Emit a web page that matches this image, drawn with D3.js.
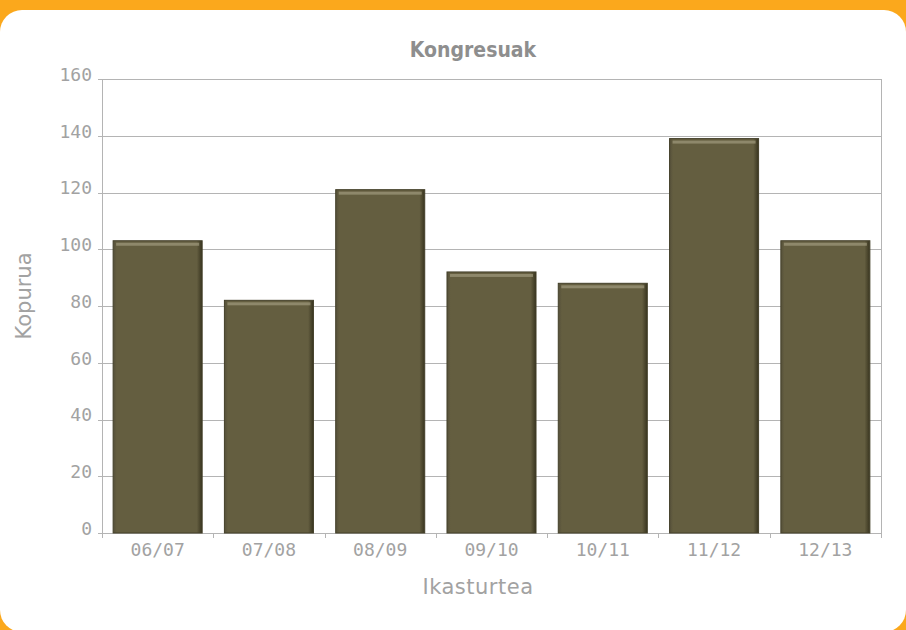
<!DOCTYPE html>
<html>
<head>
<meta charset="utf-8">
<script src="https://cdn.jsdelivr.net/npm/d3@7"></script>
<style>
  body { margin: 0; background: #fba81c; }
  text { font-family: "DejaVu Sans Mono", monospace; fill: #a2a2a2; }
  .title { font-family: "DejaVu Sans Condensed", "DejaVu Sans", sans-serif; }
  .axis-title { font-family: "DejaVu Sans", sans-serif; }
</style>
</head>
<body>
<div id="chart-area"></div>
<script>
// data
var seasons = ["06/07", "07/08", "08/09", "09/10", "10/11", "11/12", "12/13"];
var counts = [103, 82, 121, 92, 88, 139, 103];
var yTicks = [0, 20, 40, 60, 80, 100, 120, 140, 160];

var W = 906, H = 630;
var margin = { left: 102, right: 25, top: 79, bottom: 97 };
var width = W - margin.left - margin.right,
    height = H - margin.top - margin.bottom;

var svg = d3.select("#chart-area").append("svg")
    .attr("width", W)
    .attr("height", H);

// white panel
svg.append("rect")
    .attr("x", 0).attr("y", 10)
    .attr("width", W).attr("height", 622)
    .attr("rx", 22).attr("ry", 22)
    .attr("fill", "#fff");

var defs = svg.append("defs");
var grad = defs.append("linearGradient")
    .attr("id", "barGrad")
    .attr("x1", "0").attr("x2", "1").attr("y1", "0").attr("y2", "0");
grad.append("stop").attr("offset", "0%").attr("stop-color", "#55503a");
grad.append("stop").attr("offset", "4%").attr("stop-color", "#645e40");
grad.append("stop").attr("offset", "94%").attr("stop-color", "#645e40");
grad.append("stop").attr("offset", "100%").attr("stop-color", "#38341f");

var g = svg.append("g")
    .attr("transform", "translate(" + margin.left + "," + margin.top + ")");

// scales
var x = d3.scaleBand().domain(seasons).range([0, width])
    .paddingInner(0.2).paddingOuter(0.1);
var y = d3.scaleLinear().domain([0, 160]).range([height, 0]);

// gridlines
g.selectAll(".grid").data(yTicks).enter().append("line")
    .attr("x1", -4).attr("x2", width)
    .attr("y1", function(d) { return Math.round(y(d)) + 0.5; })
    .attr("y2", function(d) { return Math.round(y(d)) + 0.5; })
    .attr("stroke", "#b4b4b4");

// frame
g.append("line").attr("x1", 0.5).attr("x2", 0.5).attr("y1", 0).attr("y2", height + 5)
    .attr("stroke", "#b4b4b4");
g.append("line").attr("x1", width + 0.5).attr("x2", width + 0.5).attr("y1", 0).attr("y2", height + 5)
    .attr("stroke", "#b4b4b4");

// x ticks between categories
g.selectAll(".xtick").data(seasons.slice(1)).enter().append("line")
    .attr("x1", function(d) { return Math.round(x(d) - x.step() * x.paddingInner() / 2) + 0.5; })
    .attr("x2", function(d) { return Math.round(x(d) - x.step() * x.paddingInner() / 2) + 0.5; })
    .attr("y1", height).attr("y2", height + 5)
    .attr("stroke", "#b4b4b4");

// y labels
g.selectAll(".ylab").data(yTicks).enter().append("text")
    .attr("x", -10)
    .attr("y", function(d) { return y(d); })
    .attr("dy", "0.1em")
    .attr("text-anchor", "end")
    .attr("font-size", "18px")
    .text(function(d) { return d; });

// x labels
g.selectAll(".xlab").data(seasons).enter().append("text")
    .attr("x", function(d) { return x(d) + x.bandwidth() / 2; })
    .attr("y", height + 23)
    .attr("text-anchor", "middle")
    .attr("font-size", "18px")
    .text(function(d) { return d; });

// bars
var bars = g.selectAll(".bar").data(counts).enter().append("g");
bars.append("rect")
    .attr("x", function(d, i) { return x(seasons[i]); })
    .attr("y", function(d) { return y(d); })
    .attr("width", x.bandwidth())
    .attr("height", function(d) { return height - y(d); })
    .attr("fill", "url(#barGrad)")
    .attr("stroke", "#44402a")
    .attr("stroke-width", 1);
// top bevel highlight
bars.append("rect")
    .attr("x", function(d, i) { return x(seasons[i]) + 3; })
    .attr("y", function(d) { return y(d) + 2; })
    .attr("width", x.bandwidth() - 6)
    .attr("height", 3)
    .attr("fill", "#a09a7e")
    .attr("opacity", 0.7);

// title
svg.append("text")
    .attr("class", "title")
    .attr("x", 473).attr("y", 57)
    .attr("text-anchor", "middle")
    .attr("font-weight", "bold")
    .attr("font-size", "21px")
    .style("fill", "#8e8e8e")
    .text("Kongresuak");

// axis titles
svg.append("text")
    .attr("class", "axis-title")
    .attr("x", 478).attr("y", 594)
    .attr("text-anchor", "middle")
    .attr("font-size", "21px")
    .attr("letter-spacing", "0.5px")
    .text("Ikasturtea");

svg.append("text")
    .attr("class", "axis-title")
    .attr("transform", "translate(31,296) rotate(-90)")
    .attr("text-anchor", "middle")
    .attr("font-size", "21px")
    .text("Kopurua");
</script>
</body>
</html>
